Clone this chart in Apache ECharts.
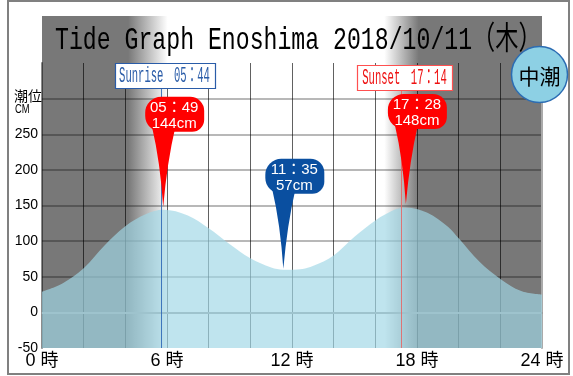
<!DOCTYPE html>
<html><head><meta charset="utf-8">
<script src="https://cdn.jsdelivr.net/npm/echarts@6.0.0/dist/echarts.min.js"></script>
<style>html,body{margin:0;padding:0;background:#fff}#c{width:573px;height:376px}</style>
</head><body><div id="c"></div>
<script>
// ---- data ----
const titlePlace = 'Tide Graph Enoshima';
const titleDate = '2018/10/11';
const titleWeekday = '木';
const tideName = '中潮';

const xTicks = [0, 6, 12, 18, 24];
const xTickSuffix = ' 時';
const yTicks = [-50, 0, 50, 100, 150, 200, 250];
const yUnitLabel = ['潮位', 'CM'];

const curveHours = [0, 1, 2, 3, 4, 5, 5.82, 7, 8, 9, 10, 11, 11.58, 12.5, 13, 14, 15, 16, 17, 17.47, 18.5, 19.5, 20, 21, 22, 23, 24];
const curveCm    = [29, 41, 62, 94, 121, 138, 144, 136, 118, 96, 76, 63, 60, 61, 65, 80, 106, 129, 145, 147, 140, 120, 104, 71, 47, 30, 25];

const extremeTimes = ['05:49', '11:35', '17:28'];
const extremeCm = [144, 57, 148];
const extremeKind = ['high', 'low', 'high'];

const sunTimes = ['05:44', '17:14'];
const sunNames = ['Sunrise', 'Sunset'];

// ---- helpers ----
const toH = t => { const p = t.split(':'); return +p[0] + (+p[1]) / 60; };
const fw = t => t.replace(':', '：');
const Y_MIN = -50, Y_MAX = 350;

const sunrise = toH(sunTimes[0]), sunset = toH(sunTimes[1]);

function renderShade(params, api) {
  const tl = api.coord([0, Y_MAX]);
  const br = api.coord([24, Y_MIN]);
  const w = br[0] - tl[0];
  const off = h => Math.max(0, Math.min(1, (api.coord([h, 0])[0] - tl[0]) / w));
  const dark = '#787878', light = '#ffffff';
  return {
    type: 'rect',
    shape: { x: tl[0], y: tl[1] - 47, width: w, height: br[1] - tl[1] + 47 },
    style: { fill: new echarts.graphic.LinearGradient(0, 0, 1, 0, [
      { offset: 0, color: dark },
      { offset: off(sunrise - 1.6), color: dark },
      { offset: off(sunrise + 0.3), color: light },
      { offset: off(sunset - 0.8), color: light },
      { offset: off(sunset + 0.85), color: dark },
      { offset: 1, color: dark }
    ]) }
  };
}

function renderSun(params, api) {
  const i = params.dataIndex;
  const x = Math.round(api.coord([api.value(0), 0])[0]) + 0.5;
  const yBottom = api.coord([0, Y_MIN])[1];
  const yTop = api.coord([0, Y_MAX])[1];
  const rise = i === 0;
  const color = rise ? '#2a5ca8' : '#ee1111';
  const stroke = rise ? '#2a5ca8' : '#ff5050';
  const boxTop = yTop + (rise ? 0 : 2);
  const boxW = rise ? 100 : 95, boxH = 25;
  const cx = x + 3;
  return { type: 'group', children: [
    { type: 'line', shape: { x1: x, y1: boxTop + boxH, x2: x, y2: yBottom },
      style: { stroke: rise ? 'rgba(40,100,180,0.85)' : 'rgba(230,100,100,0.85)', lineWidth: 1 } },
    { type: 'rect', shape: { x: Math.round(cx - boxW / 2) + 0.5, y: boxTop + 0.5, width: boxW, height: boxH },
      style: { fill: '#fff', stroke: stroke, lineWidth: 1.2 } },
    { type: 'text', x: cx, y: boxTop + boxH / 2 + 1, scaleX: 0.48,
      style: { text: sunNames[i] + '\u3000' + fw(sunTimes[i]), font: '22px "Liberation Mono", "Noto Sans CJK JP"',
        fill: color, align: 'center', verticalAlign: 'middle' } }
  ] };
}

function renderTide(params, api) {
  const i = params.dataIndex;
  const p = api.coord([api.value(0), api.value(1)]);
  const tx = p[0], ty = p[1] - 3;
  const color = extremeKind[i] === 'high' ? '#ff0000' : '#0a4fa0';
  const L = tx - 18, R = tx + 41, T = ty - 110, B = ty - 75;
  const tail = 'M' + (tx - 11) + ' ' + (B - 4) + ' Q' + (tx - 3) + ' ' + (B + 30) + ' ' + tx + ' ' + ty +
               ' Q' + (tx + 4) + ' ' + (B + 30) + ' ' + (tx + 12) + ' ' + (B - 4) + ' Z';
  const font = '15px "Liberation Sans", "Noto Sans CJK JP"';
  return { type: 'group', children: [
    { type: 'rect', shape: { x: L, y: T, width: R - L, height: B - T, r: [16, 14, 12, 16] }, style: { fill: color } },
    { type: 'path', shape: { pathData: tail }, style: { fill: color } },
    { type: 'text', x: tx + 11, y: T + 11, style: { text: fw(extremeTimes[i]), font: font, fill: '#fff', align: 'center', verticalAlign: 'middle' } },
    { type: 'text', x: tx + 11, y: T + 27, style: { text: extremeCm[i] + 'cm', font: font, fill: '#fff', align: 'center', verticalAlign: 'middle' } }
  ] };
}

const chart = echarts.init(document.getElementById('c'), null, { renderer: 'canvas' });
chart.setOption({
  animation: false,
  backgroundColor: '#fff',
  grid: { left: 42, right: 31, top: 63, bottom: 28, containLabel: false },
  xAxis: {
    type: 'value', min: 0, max: 24, interval: 2,
    axisLine: { show: true, lineStyle: { color: '#9a9a9a', width: 2 } },
    axisTick: { show: false },
    axisLabel: { formatter: v => xTicks.includes(v) ? v + xTickSuffix : '', color: '#000', fontSize: 18,
      fontFamily: '"Liberation Sans", "Noto Sans CJK JP"', margin: 4 },
    splitLine: { show: true, showMinLine: false, showMaxLine: false, lineStyle: { color: 'rgba(0,0,0,0.62)', width: 1 } }
  },
  yAxis: [{
    type: 'value', min: Y_MIN, max: Y_MAX, interval: 50,
    axisLine: { show: true, lineStyle: { color: 'rgba(0,0,0,0.45)', width: 2 } },
    axisTick: { show: false },
    axisLabel: { formatter: v => yTicks.includes(v) ? String(v) : '', color: '#000', fontSize: 14,
      fontFamily: '"Liberation Sans"', margin: 4 },
    splitLine: { show: true, showMinLine: false, showMaxLine: false, lineStyle: { color: 'rgba(0,0,0,0.28)', width: 2 } }
  }, {
    type: 'value', position: 'right', min: Y_MIN, max: Y_MAX, interval: 50,
    axisLine: { show: true, lineStyle: { color: '#aaaaaa', width: 2 } },
    axisTick: { show: false }, axisLabel: { show: false }, splitLine: { show: false }
  }],
  series: [
    { type: 'custom', z: -1, silent: true, data: [[0, 0]], renderItem: renderShade },
    { type: 'line', z: 2, silent: true, smooth: 0.35, symbol: 'none',
      data: curveHours.map((h, i) => [h, curveCm[i]]),
      lineStyle: { opacity: 0, width: 0 },
      areaStyle: { color: 'rgba(160,215,230,0.68)', opacity: 1, origin: 'start' } },
    { type: 'custom', z: 3, silent: true, data: sunTimes.map(t => [toH(t), 0]), renderItem: renderSun },
    { type: 'custom', z: 4, silent: true, data: extremeTimes.map((t, i) => [toH(t), extremeCm[i]]), renderItem: renderTide }
  ],
  graphic: [
    { type: 'rect', z: 20, silent: true, shape: { x: 8, y: 1, width: 561, height: 373 },
      style: { fill: null, stroke: '#808080', lineWidth: 2 } },
    { type: 'text', z: 20, x: 55, y: 41, scaleX: 0.724,
      style: { text: titlePlace + ' ' + titleDate + '（' + titleWeekday + '）', font: '32px "Liberation Mono", "Noto Sans CJK JP"',
        fill: '#000', align: 'left', verticalAlign: 'middle' } },
    { type: 'circle', z: 20, shape: { cx: 539.5, cy: 74.5, r: 28 },
      style: { fill: '#8dd0e4', stroke: '#2c6db3', lineWidth: 1.5 } },
    { type: 'text', z: 21, x: 539.5, y: 76,
      style: { text: tideName, font: '21px "Noto Sans CJK JP"', fill: '#000', align: 'center', verticalAlign: 'middle' } },
    { type: 'text', z: 20, x: 14, y: 96,
      style: { text: yUnitLabel[0], font: '14px "Noto Sans CJK JP"', fill: '#000', align: 'left', verticalAlign: 'middle' } },
    { type: 'text', z: 20, x: 15, y: 109, scaleX: 0.72,
      style: { text: yUnitLabel[1], font: '13px "Liberation Sans"', fill: '#000', align: 'left', verticalAlign: 'middle' } }
  ]
});
</script>
</body></html>
